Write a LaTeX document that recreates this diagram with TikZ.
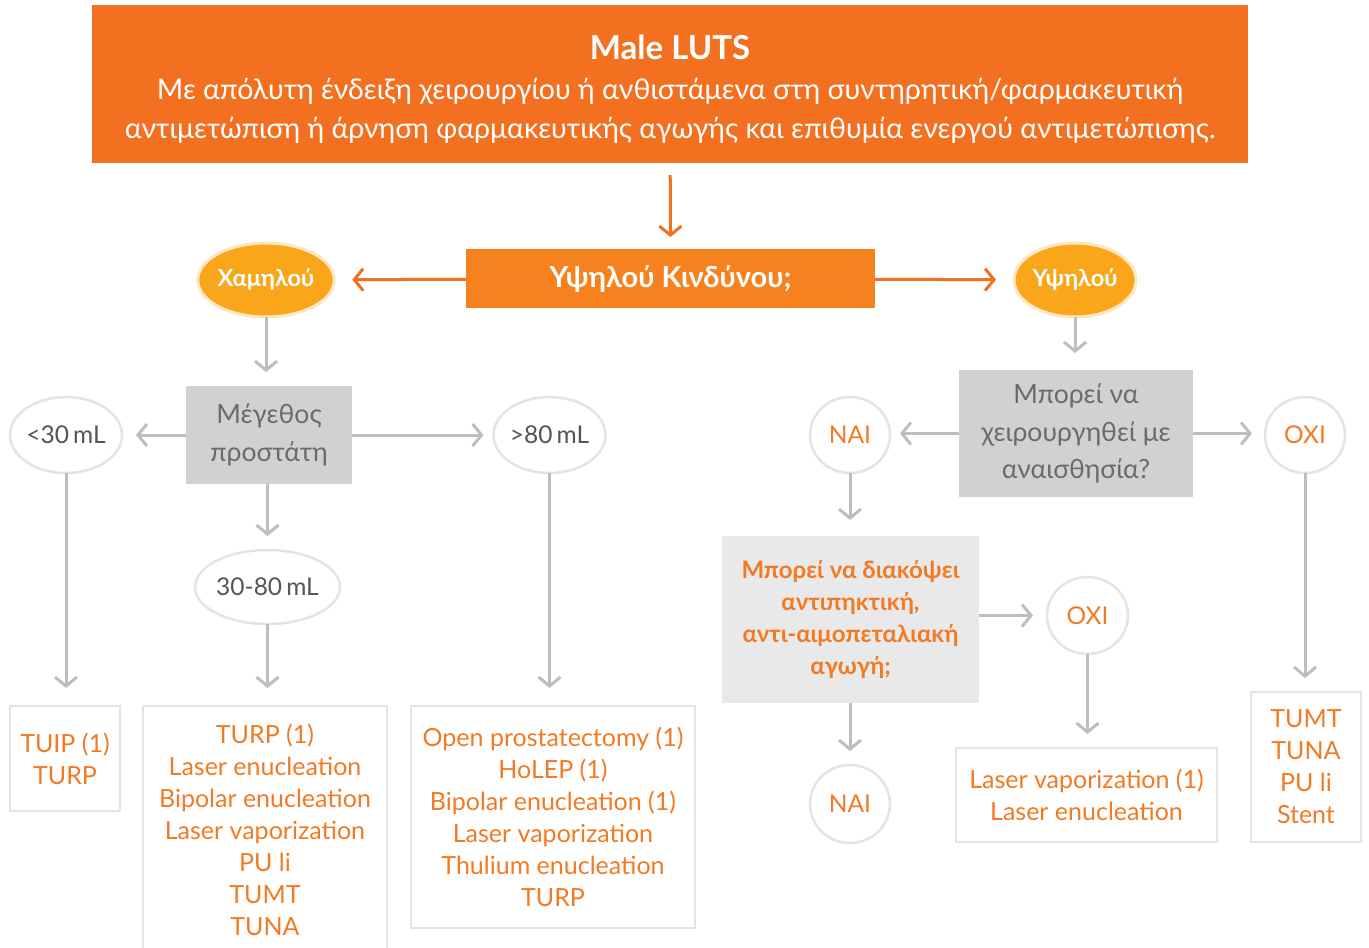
\documentclass[tikz,border=0pt]{standalone}
\usepackage{fontspec}
\setmainfont{Lato}
\usetikzlibrary{shapes.geometric,arrows.meta}
\definecolor{bannerorange}{HTML}{F37021}
\definecolor{riskorange}{HTML}{F5821F}
\definecolor{amber}{HTML}{F9A61A}
\definecolor{halo}{HTML}{FDE6C4}
\definecolor{boxgray}{HTML}{D1D1D1}
\definecolor{boxlight}{HTML}{E9E9E9}
\definecolor{graytext}{HTML}{6B6B6B}
\definecolor{darktext}{HTML}{555555}
\definecolor{arrowgray}{HTML}{BEBEC0}
\definecolor{ovalgray}{HTML}{E4E4E4}
\definecolor{orangetext}{HTML}{F37A24}
\tikzset{
  garrow/.style={draw=arrowgray, line width=3pt, -{Straight Barb[length=9pt,width=22pt,line width=3pt]}, shorten >=14pt},
  oarrow/.style={draw=bannerorange, line width=3pt, -{Straight Barb[length=9pt,width=22pt,line width=3pt]}, shorten >=12pt},
  graybox/.style={rectangle, fill=boxgray, inner sep=0pt, outer sep=0pt, align=center, text=graytext, font=\fontsize{26.5}{37.5}\selectfont},
  oval/.style={ellipse, draw=ovalgray, line width=2.5pt, fill=white, inner sep=0pt, outer sep=0pt, font=\fontsize{24.5}{28}\selectfont},
  yellowoval/.style={ellipse, draw=halo, line width=3pt, fill=amber, inner sep=0pt, outer sep=0pt, text=white, minimum width=122pt, minimum height=74pt, font=\fontsize{23.5}{26}\selectfont\bfseries},
  resultbox/.style={rectangle, draw=ovalgray, line width=2.5pt, fill=white, inner sep=0pt, outer sep=0pt, align=center, text=orangetext, font=\fontsize{25}{32}\selectfont},
}
\begin{document}
\begin{tikzpicture}[x=1pt,y=-1pt]
\useasboundingbox (0,0) rectangle (1369,948);
\clip (0,0) rectangle (1369,948);
% top banner
\node[rectangle, fill=bannerorange, minimum width=1156pt, minimum height=158pt, inner sep=0pt, outer sep=0pt] (top) at (670,84) {};
\node[text=white, align=center, font=\fontsize{28.5}{39}\selectfont, inner sep=0pt] (toptext) at (670,89)
  {\textbf{\fontsize{33}{36}\selectfont Male LUTS}\\[1pt]
   Με απόλυτη ένδειξη χειρουργίου ή ανθιστάμενα στη συντηρητική/φαρμακευτική\\
   αντιμετώπιση ή άρνηση φαρμακευτικής αγωγής και επιθυμία ενεργού αντιμετώπισης.};
% risk
\node[rectangle, fill=riskorange, minimum width=409pt, minimum height=59pt, inner sep=0pt, outer sep=0pt, text=white, font=\fontsize{29}{32}\selectfont\bfseries] (risk) at (670.5,278.5) {Υψηλού Κινδύνου;};
\node[yellowoval] (low) at (266,280) {Χαμηλού};
\node[yellowoval] (high) at (1075,280) {Υψηλού};
% left branch
\node[graybox, minimum width=166pt, minimum height=98pt] (size) at (269,435) {Μέγεθος\\προστάτη};
\node[oval, minimum width=112pt, minimum height=76pt, text=darktext] (lt30) at (66,435) {<30\,mL};
\node[oval, minimum width=111pt, minimum height=76pt, text=darktext] (gt80) at (549.5,435) {>80\,mL};
\node[oval, minimum width=134pt, minimum height=74pt, text=darktext] (mid) at (267.5,587) {30-80\,mL};
\node[resultbox, minimum width=110pt, minimum height=105pt] (r1) at (65,758.5) {TUIP (1)\\TURP};
\node[resultbox, minimum width=244pt, minimum height=247pt] (r2) at (265,829.5) {TURP (1)\\Laser enucleation\\Bipolar enucleation\\Laser vaporization\\PU li\\TUMT\\TUNA};
\node[resultbox, minimum width=284pt, minimum height=222pt] (r3) at (553,817) {Open prostatectomy (1)\\HoLEP (1)\\Bipolar enucleation (1)\\Laser vaporization\\Thulium enucleation\\TURP};
% right branch
\node[graybox, minimum width=234pt, minimum height=127pt] (anest) at (1076,433.5) {Μπορεί να\\χειρουργηθεί με\\αναισθησία?};
\node[oval, minimum width=80pt, minimum height=76pt, text=orangetext] (nai1) at (850,435) {NAI};
\node[oval, minimum width=80pt, minimum height=76pt, text=orangetext] (oxi1) at (1305,435) {OXI};
\node[rectangle, fill=boxlight, minimum width=257pt, minimum height=167pt, inner sep=0pt, outer sep=0pt, align=center, text=orangetext, font=\fontsize{24}{32}\selectfont\bfseries] (stop) at (850.5,619.5) {Μπορεί να διακόψει\\αντιπηκτική,\\αντι-αιμοπεταλιακή\\αγωγή;};
\node[oval, minimum width=81pt, minimum height=77pt, text=orangetext] (oxi2) at (1087.5,615.5) {OXI};
\node[oval, minimum width=80pt, minimum height=78pt, text=orangetext] (nai2) at (850,804) {NAI};
\node[resultbox, minimum width=261pt, minimum height=94pt] (r4) at (1086.5,795) {Laser vaporization (1)\\Laser enucleation};
\node[resultbox, minimum width=110pt, minimum height=150pt] (r5) at (1306,767) {TUMT\\TUNA\\PU li\\Stent};
% arrows
\draw[oarrow, shorten <=12pt] (top) -- (risk);
\draw[oarrow, shorten >=18pt] (risk) -- (low);
\draw[oarrow, shorten >=18pt] (risk) -- (high);
\draw[garrow] (low) -- (size.north -| low);
\draw[garrow] (size) -- (lt30);
\draw[garrow, shorten >=10pt] (size) -- (gt80);
\draw[garrow] (size.south -| mid) -- (mid);
\draw[garrow, shorten >=18pt] (lt30) -- (r1.north -| lt30);
\draw[garrow, shorten >=18pt] (mid) -- (r2.north -| mid);
\draw[garrow, shorten >=18pt] (gt80) -- (r3.north -| gt80);
\draw[garrow, shorten >=17pt] (high) -- (anest.north -| high);
\draw[garrow, shorten >=10pt] (anest.west) -- (anest.west -| nai1.east);
\draw[garrow, shorten >=13pt] (anest.east) -- (anest.east -| oxi1.west);
\draw[garrow, shorten >=16pt] (nai1) -- (stop.north -| nai1);
\draw[garrow] (oxi2 -| stop.east) -- (oxi2.west);
\draw[garrow] (stop.south -| nai2) -- (nai2);
\draw[garrow] (oxi2) -- (r4.north -| oxi2);
\draw[garrow] (oxi1) -- (r5.north -| oxi1);
\end{tikzpicture}
\end{document}
